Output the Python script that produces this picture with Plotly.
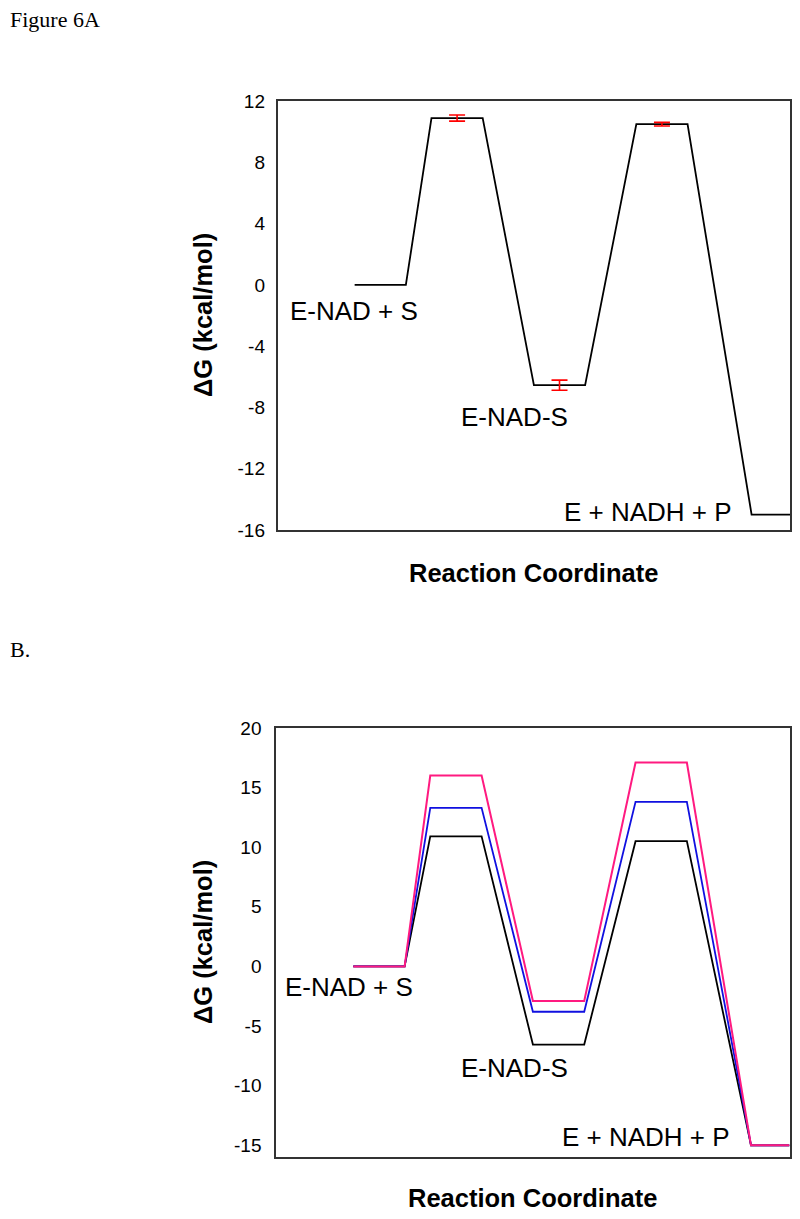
import plotly.graph_objects as go

# page body adds an 8px margin; size the figure so the page is exactly 800x1219
OFF = 8
W, H = 800 - 2 * OFF, 1219 - 2 * OFF
# empirical vertical correction of the photographed page
VS, VC = 0.984, 9.5

# ---- data ----
coord = [3, 5, 6, 8, 10, 12, 14, 16, 18.5, 20]
a_dG = [0, 0, 10.9, 10.9, -6.55, -6.55, 10.5, 10.5, -15.0, -15.0]
a_err_x = [7, 11, 15]
a_err_y = [10.9, -6.55, 10.5]
a_err = [0.2, 0.33, 0.12]

b_black = [0, 0, 10.9, 10.9, -6.55, -6.55, 10.5, 10.5, -15.0, -15.0]
b_blue = [0, 0, 13.3, 13.3, -3.8, -3.8, 13.8, 13.8, -15.0, -15.0]
b_pink = [0, 0, 16.0, 16.0, -2.9, -2.9, 17.1, 17.1, -15.0, -15.0]

a_ticks = [-16, -12, -8, -4, 0, 4, 8, 12]
a_ticktext = ["-16", "-12", "-8", "-4", "0", "4", "8", "12"]
b_ticks = [-15, -10, -5, 0, 5, 10, 15, 20]
b_ticktext = ["-15", "-10", "-5", "0", "5", "10", "15", "20"]

state_labels = ["E-NAD + S", "E-NAD-S", "E + NADH + P"]
a_label_pos = [(2.98, -1.68), (9.25, -8.6), (14.45, -14.83)]
b_label_pos = [(2.85, -1.7), (9.3, -8.48), (14.4, -14.33)]

SANS = "Liberation Sans, Arial, sans-serif"
SERIF = "Liberation Serif, Times New Roman, serif"


def px(x):
    return min(1.0, max(0.0, (x - OFF) / W))


def py(y):
    y = (y - VC) / VS
    return 1 - (y - OFF) / H


# frames in target pixels
A = dict(l=278.5, r=792, t=100.7, b=530)
B = dict(l=277, r=791.5, t=728.3, b=1158.3)

fig = go.Figure()

fig.add_trace(go.Scatter(x=coord, y=a_dG, mode="lines", line=dict(color="black", width=1.8),
                         xaxis="x", yaxis="y", showlegend=False))
fig.add_trace(go.Scatter(x=a_err_x, y=a_err_y, mode="markers",
                         marker=dict(size=1, color="rgba(0,0,0,0)"),
                         error_y=dict(type="data", array=a_err, color="red", thickness=1.6, width=8),
                         xaxis="x", yaxis="y", showlegend=False))

for ys, col, wd in [(b_black, "black", 1.8), (b_blue, "#1010e0", 1.8), (b_pink, "#ff1a80", 2.0)]:
    fig.add_trace(go.Scatter(x=coord, y=ys, mode="lines", line=dict(color=col, width=wd),
                             xaxis="x2", yaxis="y2", showlegend=False))

axis_common = dict(showgrid=False, zeroline=False, showline=True, mirror=True,
                   linecolor="#333333", linewidth=2)

fig.update_layout(
    width=W, height=H,
    margin=dict(l=0, r=0, t=0, b=0),
    paper_bgcolor="white", plot_bgcolor="white",
    xaxis=dict(domain=[px(A["l"]), px(A["r"])], range=[0, 20], showticklabels=False, ticks="",
               anchor="y", **axis_common),
    yaxis=dict(domain=[py(A["b"]), py(A["t"])], range=[-16, 12], tickvals=a_ticks,
               ticktext=a_ticktext, ticks="",
               ticklabelstandoff=7, tickfont=dict(family=SANS, size=19, color="black"),
               anchor="x", **axis_common),
    xaxis2=dict(domain=[px(B["l"]), px(B["r"])], range=[0, 20], showticklabels=False, ticks="",
                anchor="y2", **axis_common),
    yaxis2=dict(domain=[py(B["b"]), py(B["t"])], range=[-16, 20], tickvals=b_ticks,
                ticktext=b_ticktext, ticks="",
                ticklabelstandoff=9, tickfont=dict(family=SANS, size=19, color="black"),
                anchor="x2", **axis_common),
)

ann = []
# panel headings
ann.append(dict(text="Figure 6A", x=px(7), y=py(33), xref="paper", yref="paper",
                xanchor="left", yanchor="bottom", showarrow=False,
                font=dict(family=SERIF, size=22, color="black")))
ann.append(dict(text="B.", x=px(7), y=py(664), xref="paper", yref="paper",
                xanchor="left", yanchor="bottom", showarrow=False,
                font=dict(family=SERIF, size=22, color="black")))

# axis titles
for fr in (A, B):
    ann.append(dict(text="<b>ΔG (kcal/mol)</b>", x=px(203), y=py((fr["t"] + fr["b"]) / 2),
                    xref="paper", yref="paper", textangle=-90, showarrow=False,
                    xanchor="center", yanchor="middle",
                    font=dict(family=SANS, size=25.5, color="black")))
ann.append(dict(text="<b>Reaction Coordinate</b>", x=px((A["l"] + A["r"]) / 2), y=py(573),
                xref="paper", yref="paper", showarrow=False, xanchor="center", yanchor="middle",
                font=dict(family=SANS, size=25.5, color="black")))
ann.append(dict(text="<b>Reaction Coordinate</b>", x=px((B["l"] + B["r"]) / 2), y=py(1199),
                xref="paper", yref="paper", showarrow=False, xanchor="center", yanchor="middle",
                font=dict(family=SANS, size=25.5, color="black")))

# state labels
for lab, (x, y) in zip(state_labels, a_label_pos):
    ann.append(dict(text=lab, x=x, y=y, xref="x", yref="y", showarrow=False,
                    xanchor="center", yanchor="middle",
                    font=dict(family=SANS, size=26, color="black")))
for lab, (x, y) in zip(state_labels, b_label_pos):
    ann.append(dict(text=lab, x=x, y=y, xref="x2", yref="y2", showarrow=False,
                    xanchor="center", yanchor="middle",
                    font=dict(family=SANS, size=26, color="black")))

fig.update_layout(annotations=ann)
fig.write_html("out.html")
